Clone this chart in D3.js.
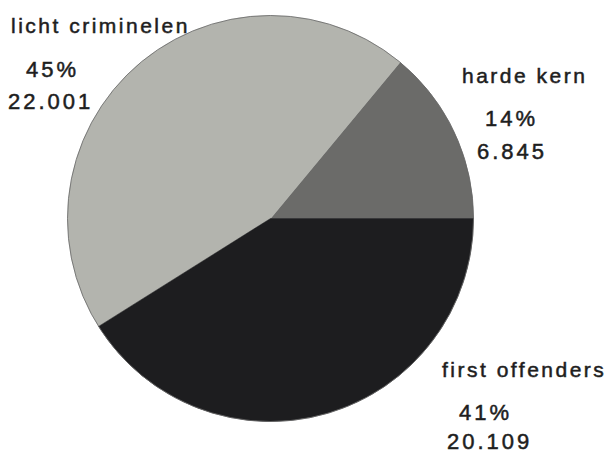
<!DOCTYPE html>
<html>
<head>
<meta charset="utf-8">
<script src="https://cdn.jsdelivr.net/npm/d3@7"></script>
<style>
  body { margin: 0; background: #fff; }
  svg { display: block; }
</style>
</head>
<body>
<div id="chart"></div>
<script>
const categories = ["harde kern", "licht criminelen", "first offenders"];
const values = [6845, 22001, 20109];
const valueLabels = ["6.845", "22.001", "20.109"];
const percentLabels = ["14%", "45%", "41%"];
const sliceColors = ["#6b6b69", "#b3b4ae", "#1d1d1f"];

// label anchor positions (name, percent, value) per category
const labelPos = [
  {name: [462, 83], pct: [485, 126], val: [477, 159]},
  {name: [11, 33], pct: [26, 77], val: [8, 109]},
  {name: [442, 377], pct: [459, 420], val: [447, 449]}
];

function drawPie() {
  const width = 612;
  const height = 453;
  const cx = 270.5, cy = 218.5, radius = 203;

  const svg = d3.select("#chart").append("svg")
      .attr("width", width)
      .attr("height", height);

  const data = categories.map((c, i) => ({name: c, value: values[i], i: i}));

  // start at 3 o'clock, go counterclockwise
  const pie = d3.pie()
      .sort(null)
      .value(d => d.value)
      .startAngle(Math.PI / 2)
      .endAngle(Math.PI / 2 - 2 * Math.PI);

  const arc = d3.arc().innerRadius(0).outerRadius(radius);

  svg.append("g")
      .attr("transform", `translate(${cx},${cy})`)
    .selectAll("path")
    .data(pie(data))
    .join("path")
      .attr("d", arc)
      .attr("fill", d => sliceColors[d.data.i])
      .attr("stroke", d => sliceColors[d.data.i])
      .attr("stroke-width", 0.5);

  // thin outline
  svg.append("circle")
      .attr("cx", cx)
      .attr("cy", cy)
      .attr("r", radius)
      .attr("fill", "none")
      .attr("stroke", "#666")
      .attr("stroke-width", 0.8);

  const labels = svg.append("g")
      .style("font-family", "'Liberation Sans', Arial, sans-serif")
      .attr("fill", "#1e1e1e")
      .attr("stroke", "#1e1e1e")
      .attr("stroke-width", 0.5);

  data.forEach((d, i) => {
    const p = labelPos[i];
    labels.append("text")
        .attr("x", p.name[0]).attr("y", p.name[1])
        .style("font-size", "21px")
        .style("letter-spacing", "2.5px")
        .text(d.name);
    labels.append("text")
        .attr("x", p.pct[0]).attr("y", p.pct[1])
        .style("font-size", "22px")
        .style("letter-spacing", "3px")
        .text(percentLabels[i]);
    labels.append("text")
        .attr("x", p.val[0]).attr("y", p.val[1])
        .style("font-size", "22px")
        .style("letter-spacing", "3px")
        .text(valueLabels[i]);
  });

  return svg.node();
}

drawPie();
</script>
</body>
</html>
